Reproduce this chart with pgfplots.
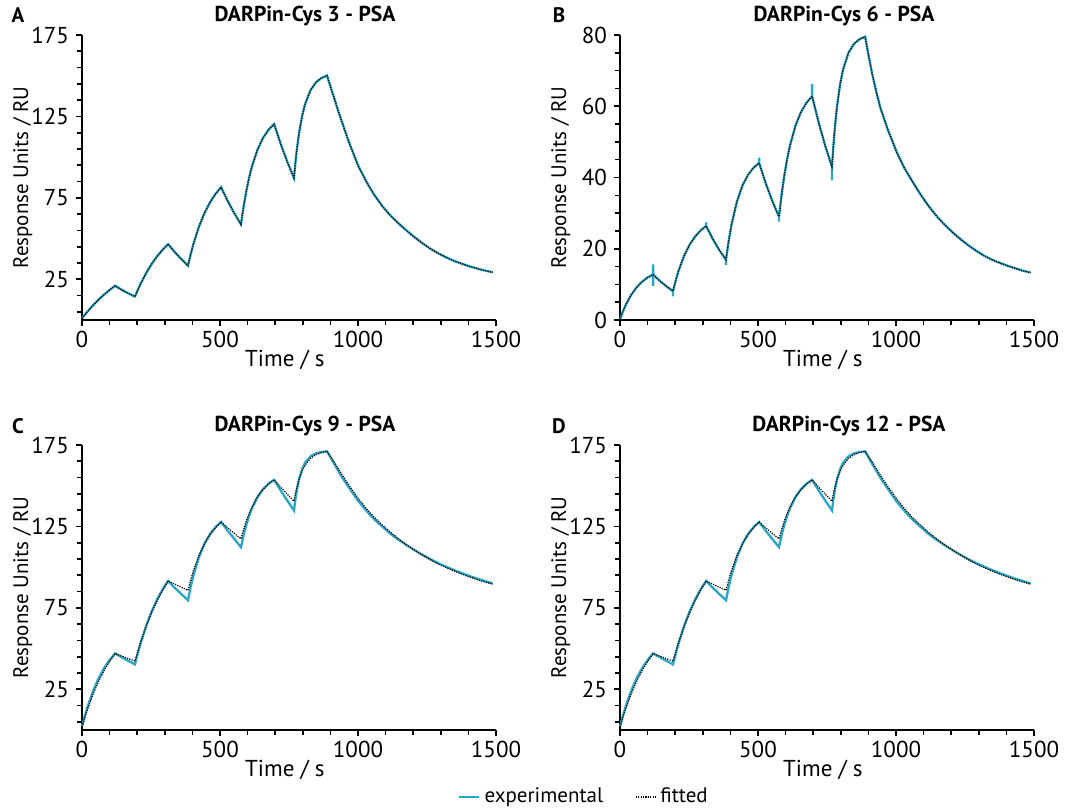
\documentclass[border=0pt]{standalone}
\usepackage{fontspec}
\setmainfont{PT Sans}
\usepackage{pgfplots}
\usepackage{pgfplotstable}
\pgfplotsset{compat=1.18}
\definecolor{expc}{RGB}{40,166,198}

\pgfplotstableread{
t y
0 1.0
10 3.16
20 5.22
40 9.04
60 12.49
80 15.62
100 18.44
120 21.0
144 18.52
168 16.33
192 14.4
202 18.41
212 22.12
232 28.69
252 34.29
272 39.07
292 43.14
312 46.6
336 41.70
360 37.32
384 33.4
394 40.53
404 46.85
424 57.43
444 65.75
464 72.30
484 77.45
504 81.5
528 73.06
552 65.49
576 58.7
586 70.17
596 79.75
606 87.76
616 94.43
636 104.68
656 111.84
676 116.82
696 120.3
720 108.07
744 97.07
768 87.2
773 96.21
778 103.96
783 110.64
788 116.38
798 125.57
808 132.39
828 141.17
848 146.00
868 148.65
888 150.1
900 143.4
913 136.6
930 127.5
950 117.5
971 107.5
1000 95.0
1030 85.0
1058 77.0
1090 69.5
1116 64.4
1150 58.8
1174 55.2
1200 51.5
1233 47.2
1260 44.0
1291 40.9
1320 38.4
1349 36.2
1380 34.3
1407 32.8
1440 31.2
1459 30.4
1488 29.3
}\Afit

\pgfplotstableread{
t y
0 0.2
10 2.30
20 4.11
40 7.01
60 9.16
80 10.75
100 11.93
120 12.8
144 10.99
168 9.44
192 8.1
202 11.15
212 13.78
232 17.99
252 21.11
272 23.42
292 25.13
312 26.4
336 22.75
360 19.61
384 16.9
394 22.32
404 26.76
424 33.37
444 37.80
464 40.77
484 42.76
504 44.1
528 38.35
552 33.35
576 29.0
586 35.51
596 40.90
606 45.36
616 49.04
636 54.61
656 58.42
676 61.02
696 62.8
720 55.35
744 48.78
768 43.0
773 48.66
778 53.46
783 57.53
788 60.98
798 66.38
808 70.27
828 75.07
848 77.55
868 78.84
888 79.5
900 74.5
915 68.6
930 63.6
944 59.4
970 53.5
1002 47.2
1030 42.7
1060 38.8
1090 35.1
1119 31.9
1150 28.9
1177 26.7
1205 24.6
1235 22.6
1265 20.8
1293 19.3
1320 18.0
1351 16.8
1380 15.9
1409 15.1
1440 14.3
1461 13.8
1488 13.3
}\Bfit

\pgfplotstableread{
t y
0 0.2
10 2.30
20 4.11
40 7.01
60 9.16
80 10.75
100 11.93
120 12.8
120 15.6
120 9.6
120 12.8
144 10.99
168 9.44
192 8.1
192 6.6
192 8.1
202 11.15
212 13.78
232 17.99
252 21.11
272 23.42
292 25.13
312 26.4
312 27.4
312 26.4
336 22.75
360 19.61
384 16.9
384 15.5
384 16.9
394 22.32
404 26.76
424 33.37
444 37.80
464 40.77
484 42.76
504 44.1
504 45.6
504 44.1
528 38.35
552 33.35
576 29.0
576 27.6
576 29.0
586 35.51
596 40.90
606 45.36
616 49.04
636 54.61
656 58.42
676 61.02
696 62.8
696 66.3
696 62.8
720 55.35
744 48.78
768 43.0
768 39.2
768 43.0
773 48.66
778 53.46
783 57.53
788 60.98
798 66.38
808 70.27
828 75.07
848 77.55
868 78.84
888 79.5
900 74.5
915 68.6
930 63.6
944 59.4
970 53.5
1002 47.2
1030 42.7
1060 38.8
1090 35.1
1119 31.9
1150 28.9
1177 26.7
1205 24.6
1235 22.6
1265 20.8
1293 19.3
1320 18.0
1351 16.8
1380 15.9
1409 15.1
1440 14.3
1461 13.8
1488 13.3
}\Bexp

\pgfplotstableread{
t y
0 2.0
10 8.40
20 14.13
40 23.86
60 31.66
80 37.93
100 42.96
120 47.0
144 44.65
168 42.42
192 40.3
202 46.97
212 53.07
232 63.74
252 72.65
272 80.09
292 86.31
312 91.5
336 87.38
360 83.45
384 79.7
394 88.02
404 95.11
424 106.29
444 114.41
464 120.31
484 124.59
504 127.7
528 122.35
552 117.23
576 112.3
586 119.99
596 126.41
606 131.78
616 136.26
636 143.13
656 147.93
676 151.27
696 153.6
720 147.06
744 140.79
768 134.8
773 141.44
778 146.87
783 151.31
788 154.96
798 160.38
808 164.01
828 168.08
848 169.91
868 170.73
888 171.1
910 164.5
943 155.0
970 148.2
1001 140.6
1030 134.7
1059 129.3
1090 124.6
1117 120.6
1146 116.9
1175 113.6
1204 110.5
1233 107.6
1262 104.9
1291 102.4
1320 100.2
1349 98.1
1378 96.2
1407 94.4
1433 92.9
1459 91.5
1488 90.0
}\Cexp

\pgfplotstableread{
t y
0 2.0
10 7.61
20 12.79
40 21.97
60 29.80
80 36.47
100 42.16
120 47.0
144 45.38
168 43.81
192 42.3
202 48.15
212 53.61
232 63.44
252 72.00
272 79.43
292 85.88
312 91.5
336 89.56
360 87.66
384 85.8
394 92.27
404 97.94
424 107.31
444 114.53
464 120.09
484 124.39
504 127.7
528 124.18
552 120.74
576 117.4
586 123.44
596 128.64
606 133.12
616 136.97
636 143.13
656 147.71
676 151.09
696 153.6
720 149.10
744 144.74
768 140.5
773 144.88
778 148.65
783 151.90
788 154.70
798 159.17
808 162.48
828 166.76
848 169.10
868 170.39
888 171.1
910 165.5
943 156.6
970 149.6
1001 142.2
1030 136.0
1059 130.6
1090 125.6
1117 121.5
1146 117.5
1175 113.9
1204 110.6
1233 107.5
1262 104.6
1291 102.0
1320 99.7
1349 97.6
1378 95.6
1407 93.8
1433 92.3
1459 90.9
1488 89.5
}\Cfit

\pgfplotsset{
  sprstyle/.style={
    scale only axis, width=207pt, height=142.5pt,
    anchor=south west,
    axis lines*=left,
    axis line style={line width=0.85pt},
    tick align=outside,
    major tick length=3pt, minor tick length=2.5pt,
    every tick/.style={black, line width=0.8pt},
    xmin=0, xmax=1500,
    xtick={0,500,1000,1500}, xticklabels={0,500,1000,1500},
    minor xtick={100,200,300,400,600,700,800,900,1100,1200,1300,1400},
    tick label style={font=\fontsize{11.5}{13}\selectfont},
    xticklabel style={yshift=1pt},
    /pgf/number format/assume math mode=true,
    xlabel={Time / s}, ylabel={Response Units / RU},
    xlabel style={font=\fontsize{11.5}{13}\selectfont, at={(axis description cs:0.49,-0.14)}, anchor=center},
    ylabel style={font=\fontsize{10.5}{12}\selectfont, at={(axis description cs:-0.143,0.5)}, anchor=center},
    clip=false,
  },
  yA/.style={ymin=0, ymax=175, ytick={25,75,125,175}, yticklabels={25,75,125,175},
    minor ytick={5,15,35,45,55,65,85,95,105,115,135,145,155,165}},
  yB/.style={ymin=0, ymax=80, ytick={0,20,40,60,80}, yticklabels={0,20,40,60,80},
    minor ytick={5,10,15,25,30,35,45,50,55,65,70,75}},
  expline/.style={color=expc, line width=1.15pt},
  fitline/.style={color=black, line width=0.6pt, dash pattern=on 0.6pt off 0.6pt},
}

\begin{document}
\begin{tikzpicture}
\path[use as bounding box] (0pt,0pt) rectangle (537.5pt,-406pt);

% Panel A
\begin{axis}[sprstyle, yA, at={(41pt,-160pt)}]
\addplot[expline] table[x=t,y=y] {\Afit};
\addplot[fitline] table[x=t,y=y] {\Afit};
\end{axis}

% Panel B
\begin{axis}[sprstyle, yB, at={(310pt,-160pt)}]
\addplot[expline] table[x=t,y=y] {\Bexp};
\addplot[fitline] table[x=t,y=y] {\Bfit};
\end{axis}

% Panel C
\begin{axis}[sprstyle, yA, at={(41pt,-365pt)},
  legend style={at={(axis description cs:1.215,-0.235)}, anchor=center,
    draw=none, fill=none, legend columns=2, font=\fontsize{10.5}{12}\selectfont,
    /tikz/every even column/.append style={column sep=14pt}},
  legend image code/.code={\draw[#1] (0pt,0pt) -- (10pt,0pt);}]
\addplot[expline] table[x=t,y=y] {\Cexp};
\addplot[fitline] table[x=t,y=y] {\Cfit};
\legend{experimental, fitted}
\end{axis}

% Panel D
\begin{axis}[sprstyle, yA, at={(310pt,-365pt)}]
\addplot[expline] table[x=t,y=y] {\Cexp};
\addplot[fitline] table[x=t,y=y] {\Cfit};
\end{axis}

\node[font=\bfseries\fontsize{10.8}{12}\selectfont] at (152.5pt,-8pt) {DARPin-Cys 3 - PSA};
\node[font=\bfseries\fontsize{10.8}{12}\selectfont] at (422pt,-8pt) {DARPin-Cys 6 - PSA};
\node[font=\bfseries\fontsize{10.8}{12}\selectfont] at (152.5pt,-213pt) {DARPin-Cys 9 - PSA};
\node[font=\bfseries\fontsize{10.8}{12}\selectfont] at (424.5pt,-213pt) {DARPin-Cys 12 - PSA};

\node[font=\bfseries\fontsize{10.5}{12}\selectfont] at (9pt,-7.5pt) {A};
\node[font=\bfseries\fontsize{10.5}{12}\selectfont] at (279.5pt,-7.5pt) {B};
\node[font=\bfseries\fontsize{10.5}{12}\selectfont] at (9pt,-213pt) {C};
\node[font=\bfseries\fontsize{10.5}{12}\selectfont] at (279.5pt,-213pt) {D};
\end{tikzpicture}
\end{document}
